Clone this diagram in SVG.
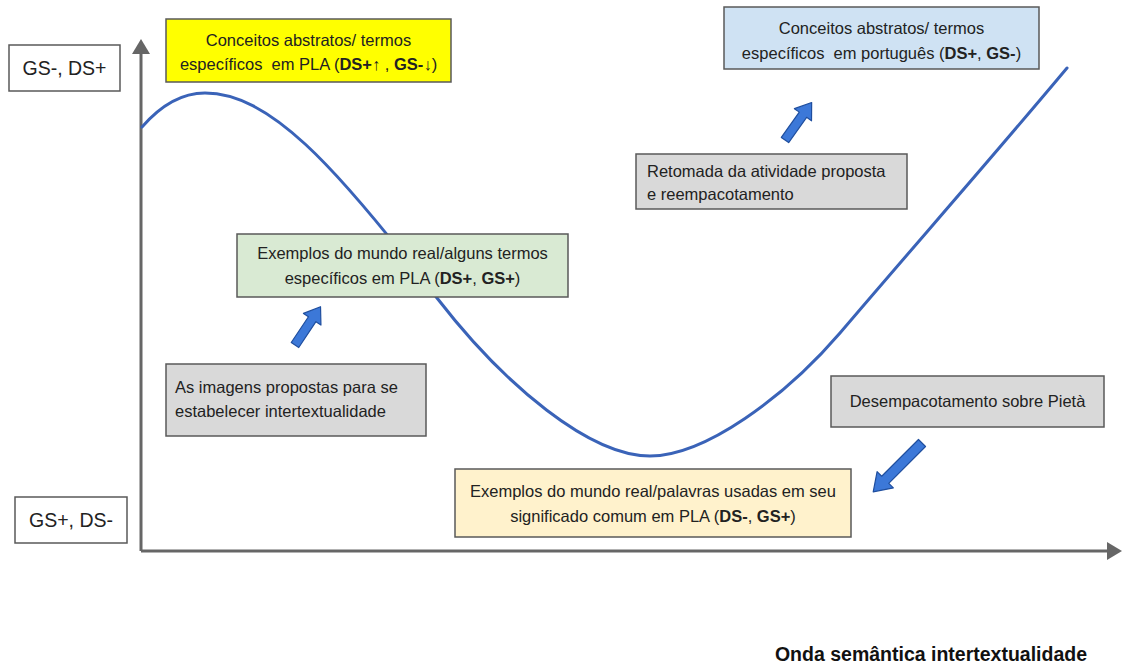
<svg xmlns="http://www.w3.org/2000/svg" width="1126" height="665" viewBox="0 0 1126 665">
<style>
.box{stroke:#595959;stroke-width:1.5}
.t{font-family:"Liberation Sans",Arial,sans-serif;font-size:16.5px;fill:#222;white-space:pre}
.c{text-anchor:middle}
.lbl{font-family:"Liberation Sans",Arial,sans-serif;font-size:19.5px;fill:#222}
.blk{fill:#3c78d8;stroke:#1f4e9e;stroke-width:1.2;stroke-linejoin:round}
.axis{stroke:#666;stroke-width:3;fill:none}
.curve{stroke:#3a63b8;stroke-width:3;fill:none;stroke-linecap:round}
</style>
<defs>
<marker id="ah" markerWidth="10" markerHeight="10" refX="2" refY="3" orient="auto" markerUnits="strokeWidth">
<path d="M0,0 L5,3 L0,6 Z" fill="#666"/>
</marker>
<path id="ba" d="M0,-4.5 L31,-4.5 L31,-10.5 L46,0 L31,10.5 L31,4.5 L0,4.5 Z"/>
</defs>
<rect width="1126" height="665" fill="#fff"/>
<g id="connectors">
<path class="axis" d="M141,551 L141,48" marker-end="url(#ah)"/>
<path class="axis" d="M141,551 L1113,551" marker-end="url(#ah)"/>
<path class="curve" d="M142,127 C162,104 182,93 205,93 C268,93 333,162 437,298 C505,386 590,456 650,456 C705,456 785,397 840,333 C915,245 990,160 1067,68"/>
<use href="#ba" class="blk" transform="translate(295,345) rotate(-56.3)"/>
<use href="#ba" class="blk" transform="translate(785,140) rotate(-54.6)"/>
<path class="blk" d="M0,-5 L52,-5 L52,-11.5 L69,0 L52,11.5 L52,5 L0,5 Z" transform="translate(922,443) rotate(135)"/>
</g>
<g id="gs-ds-top">
<rect class="box" x="9" y="45" width="111" height="46" fill="#fff"/>
<text class="lbl" x="64.5" y="75" text-anchor="middle">GS-, DS+</text>
</g>
<g id="gs-ds-bottom">
<rect class="box" x="15" y="497" width="112" height="46" fill="#fff"/>
<text class="lbl" x="71" y="527" text-anchor="middle">GS+, DS-</text>
</g>
<g id="yellow">
<rect class="box" x="166" y="19" width="285" height="63" fill="#ffff00"/>
<text class="t c" x="308.5" y="46">Conceitos abstratos/ termos</text>
<text class="t c" x="308.5" y="70" xml:space="preserve">específicos  em PLA (<tspan font-weight="bold">DS+</tspan>↑ , <tspan font-weight="bold">GS-</tspan>↓)</text>
</g>
<g id="blue">
<rect class="box" x="724" y="7" width="315" height="62" fill="#cfe2f3"/>
<text class="t c" x="881.5" y="34">Conceitos abstratos/ termos</text>
<text class="t c" x="881.5" y="59" xml:space="preserve">específicos  em português (<tspan font-weight="bold">DS+</tspan>, <tspan font-weight="bold">GS-</tspan>)</text>
</g>
<g id="retomada">
<rect class="box" x="636" y="154" width="271" height="55" fill="#d9d9d9"/>
<text class="t" x="647" y="177">Retomada da atividade proposta</text>
<text class="t" x="647" y="200">e reempacotamento</text>
</g>
<g id="green">
<rect class="box" x="237" y="234" width="331" height="63" fill="#d9ead3"/>
<text class="t c" x="402.5" y="259">Exemplos do mundo real/alguns termos</text>
<text class="t c" x="402.5" y="284">específicos em PLA (<tspan font-weight="bold">DS+</tspan>, <tspan font-weight="bold">GS+</tspan>)</text>
</g>
<g id="imagens">
<rect class="box" x="166" y="364" width="260" height="72" fill="#d9d9d9"/>
<text class="t" x="175" y="393">As imagens propostas para se</text>
<text class="t" x="175" y="417">estabelecer intertextualidade</text>
</g>
<g id="desempacotamento">
<rect class="box" x="831" y="376" width="273" height="51" fill="#d9d9d9"/>
<text class="t c" x="967.5" y="407">Desempacotamento sobre Pietà</text>
</g>
<g id="peach">
<rect class="box" x="455" y="469" width="396" height="68" fill="#fff2cc"/>
<text class="t c" x="653" y="497">Exemplos do mundo real/palavras usadas em seu</text>
<text class="t c" x="653" y="522">significado comum em PLA (<tspan font-weight="bold">DS-</tspan>, <tspan font-weight="bold">GS+</tspan>)</text>
</g>
<g id="title">
<text x="931" y="661" text-anchor="middle" font-family="'Liberation Sans',Arial,sans-serif" font-size="19.5" font-weight="bold" fill="#111">Onda semântica intertextualidade</text>
</g>
</svg>
